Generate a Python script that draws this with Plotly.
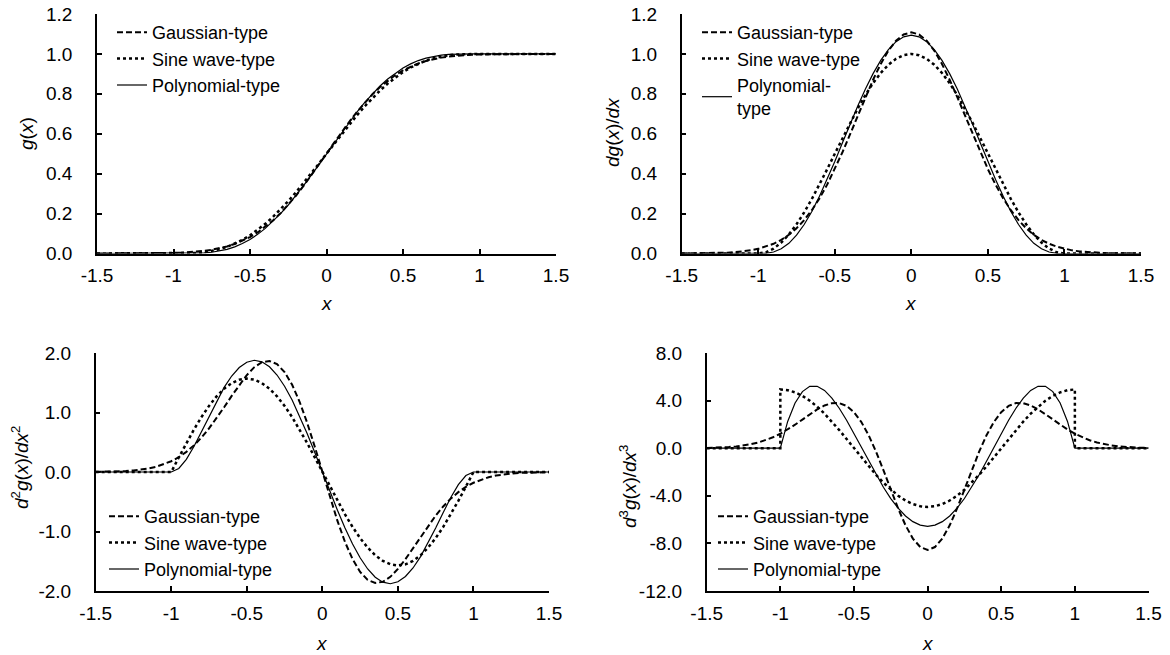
import plotly.graph_objects as go

# ---------------- data ----------------
X = [-1.5, -1.45, -1.4, -1.35, -1.3, -1.25, -1.2, -1.15, -1.1, -1.05,
     -1.0, -0.95, -0.9, -0.85, -0.8, -0.75, -0.7, -0.65, -0.6, -0.55,
     -0.5, -0.45, -0.4, -0.35, -0.3, -0.25, -0.2, -0.15, -0.1, -0.05,
     0.0, 0.05, 0.1, 0.15, 0.2, 0.25, 0.3, 0.35, 0.4, 0.45,
     0.5, 0.55, 0.6, 0.65, 0.7, 0.75, 0.8, 0.85, 0.9, 0.95,
     1.0, 1.05, 1.1, 1.15, 1.2, 1.25, 1.3, 1.35, 1.4, 1.45, 1.5]

# x values for the sine-wave third derivative (it jumps at x = -1 and x = 1)
X_SINE_D3 = [-1.5, -1.45, -1.4, -1.35, -1.3, -1.25, -1.2, -1.15, -1.1, -1.05,
             -1.0, -1.0, -0.95, -0.9, -0.85, -0.8, -0.75, -0.7, -0.65, -0.6, -0.55,
             -0.5, -0.45, -0.4, -0.35, -0.3, -0.25, -0.2, -0.15, -0.1, -0.05,
             0.0, 0.05, 0.1, 0.15, 0.2, 0.25, 0.3, 0.35, 0.4, 0.45,
             0.5, 0.55, 0.6, 0.65, 0.7, 0.75, 0.8, 0.85, 0.9, 0.95,
             1.0, 1.0, 1.05, 1.1, 1.15, 1.2, 1.25, 1.3, 1.35, 1.4, 1.45, 1.5]

# g(x)
gauss_g = [0.0000, 0.0000, 0.0000, 0.0001, 0.0002, 0.0003, 0.0004, 0.0007, 0.0011, 0.0018,
           0.0027, 0.0042, 0.0062, 0.0091, 0.0131, 0.0186, 0.0259, 0.0355, 0.0478, 0.0633,
           0.0824, 0.1056, 0.1333, 0.1655, 0.2023, 0.2437, 0.2892, 0.3385, 0.3906, 0.4448,
           0.5000, 0.5552, 0.6094, 0.6615, 0.7108, 0.7563, 0.7977, 0.8345, 0.8667, 0.8944,
           0.9176, 0.9367, 0.9522, 0.9645, 0.9741, 0.9814, 0.9869, 0.9909, 0.9938, 0.9958,
           0.9973, 0.9982, 0.9989, 0.9993, 0.9996, 0.9997, 0.9998, 0.9999, 1.0000, 1.0000, 1.0000]
sine_g = [0.0, 0.0, 0.0, 0.0, 0.0, 0.0, 0.0, 0.0, 0.0, 0.0,
          0.0, 0.0001, 0.0008, 0.0027, 0.0064, 0.0125, 0.0212, 0.0332, 0.0486, 0.0678,
          0.0908, 0.1178, 0.1486, 0.1832, 0.2212, 0.2625, 0.3064, 0.3527, 0.4008, 0.4501,
          0.5000, 0.5499, 0.5992, 0.6473, 0.6936, 0.7375, 0.7788, 0.8168, 0.8514, 0.8822,
          0.9092, 0.9322, 0.9514, 0.9668, 0.9788, 0.9875, 0.9936, 0.9973, 0.9992, 0.9999,
          1.0, 1.0, 1.0, 1.0, 1.0, 1.0, 1.0, 1.0, 1.0, 1.0, 1.0]
poly_g = [0.0, 0.0, 0.0, 0.0, 0.0, 0.0, 0.0, 0.0, 0.0, 0.0,
          0.0, 0.0000, 0.0002, 0.0009, 0.0027, 0.0062, 0.0121, 0.0209, 0.0333, 0.0498,
          0.0706, 0.0959, 0.1260, 0.1607, 0.1998, 0.2430, 0.2898, 0.3396, 0.3917, 0.4454,
          0.5000, 0.5546, 0.6083, 0.6604, 0.7102, 0.7570, 0.8002, 0.8393, 0.8740, 0.9041,
          0.9294, 0.9502, 0.9667, 0.9791, 0.9879, 0.9938, 0.9973, 0.9991, 0.9998, 1.0000,
          1.0, 1.0, 1.0, 1.0, 1.0, 1.0, 1.0, 1.0, 1.0, 1.0, 1.0]

# dg(x)/dx
gauss_d1 = [0.0002, 0.0003, 0.0006, 0.0010, 0.0016, 0.0027, 0.0043, 0.0067, 0.0104, 0.0158,
            0.0234, 0.0341, 0.0487, 0.0682, 0.0938, 0.1265, 0.1673, 0.2171, 0.2763, 0.3450,
            0.4224, 0.5074, 0.5978, 0.6908, 0.7831, 0.8708, 0.9497, 1.0161, 1.0663, 1.0976,
            1.1082, 1.0976, 1.0663, 1.0161, 0.9497, 0.8708, 0.7831, 0.6908, 0.5978, 0.5074,
            0.4224, 0.3450, 0.2763, 0.2171, 0.1673, 0.1265, 0.0938, 0.0682, 0.0487, 0.0341,
            0.0234, 0.0158, 0.0104, 0.0067, 0.0043, 0.0027, 0.0016, 0.0010, 0.0006, 0.0003, 0.0002]
sine_d1 = [0.0, 0.0, 0.0, 0.0, 0.0, 0.0, 0.0, 0.0, 0.0, 0.0,
           0.0, 0.0062, 0.0245, 0.0545, 0.0955, 0.1464, 0.2061, 0.2730, 0.3455, 0.4218,
           0.5000, 0.5782, 0.6545, 0.7270, 0.7939, 0.8536, 0.9045, 0.9455, 0.9755, 0.9938,
           1.0000, 0.9938, 0.9755, 0.9455, 0.9045, 0.8536, 0.7939, 0.7270, 0.6545, 0.5782,
           0.5000, 0.4218, 0.3455, 0.2730, 0.2061, 0.1464, 0.0955, 0.0545, 0.0245, 0.0062,
           0.0, 0.0, 0.0, 0.0, 0.0, 0.0, 0.0, 0.0, 0.0, 0.0, 0.0]
poly_d1 = [0.0, 0.0, 0.0, 0.0, 0.0, 0.0, 0.0, 0.0, 0.0, 0.0,
           0.0, 0.0010, 0.0075, 0.0234, 0.0510, 0.0916, 0.1451, 0.2107, 0.2867, 0.3712,
           0.4614, 0.5548, 0.6483, 0.7390, 0.8242, 0.9012, 0.9677, 1.0216, 1.0613, 1.0856,
           1.0938, 1.0856, 1.0613, 1.0216, 0.9677, 0.9012, 0.8242, 0.7390, 0.6483, 0.5548,
           0.4614, 0.3712, 0.2867, 0.2107, 0.1451, 0.0916, 0.0510, 0.0234, 0.0075, 0.0010,
           0.0, 0.0, 0.0, 0.0, 0.0, 0.0, 0.0, 0.0, 0.0, 0.0, 0.0]

# d2g(x)/dx2
gauss_d2 = [0.0023, 0.0034, 0.0065, 0.0104, 0.0160, 0.0260, 0.0398, 0.0595, 0.0883, 0.1280,
            0.1806, 0.2500, 0.3382, 0.4473, 0.5790, 0.7321, 0.9036, 1.0888, 1.2792, 1.4641,
            1.6296, 1.7618, 1.8451, 1.8656, 1.8127, 1.6798, 1.4656, 1.1760, 0.8228, 0.4235,
            0.0, -0.4235, -0.8228, -1.1760, -1.4656, -1.6798, -1.8127, -1.8656, -1.8451, -1.7618,
            -1.6296, -1.4641, -1.2792, -1.0888, -0.9036, -0.7321, -0.5790, -0.4473, -0.3382, -0.2500,
            -0.1806, -0.1280, -0.0883, -0.0595, -0.0398, -0.0260, -0.0160, -0.0104, -0.0065, -0.0034, -0.0023]
sine_d2 = [0.0, 0.0, 0.0, 0.0, 0.0, 0.0, 0.0, 0.0, 0.0, 0.0,
           0.0, 0.2457, 0.4854, 0.7131, 0.9233, 1.1107, 1.2708, 1.3996, 1.4939, 1.5515,
           1.5708, 1.5515, 1.4939, 1.3996, 1.2708, 1.1107, 0.9233, 0.7131, 0.4854, 0.2457,
           0.0, -0.2457, -0.4854, -0.7131, -0.9233, -1.1107, -1.2708, -1.3996, -1.4939, -1.5515,
           -1.5708, -1.5515, -1.4939, -1.3996, -1.2708, -1.1107, -0.9233, -0.7131, -0.4854, -0.2457,
           0.0, 0.0, 0.0, 0.0, 0.0, 0.0, 0.0, 0.0, 0.0, 0.0, 0.0]
poly_d2 = [0.0, 0.0, 0.0, 0.0, 0.0, 0.0, 0.0, 0.0, 0.0, 0.0,
           0.0, 0.0593, 0.2132, 0.4296, 0.6804, 0.9421, 1.1948, 1.4226, 1.6128, 1.7560,
           1.8457, 1.8782, 1.8522, 1.7686, 1.6303, 1.4420, 1.2096, 0.9406, 0.6432, 0.3265,
           0.0, -0.3265, -0.6432, -0.9406, -1.2096, -1.4420, -1.6303, -1.7686, -1.8522, -1.8782,
           -1.8457, -1.7560, -1.6128, -1.4226, -1.1948, -0.9421, -0.6804, -0.4296, -0.2132, -0.0593,
           0.0, 0.0, 0.0, 0.0, 0.0, 0.0, 0.0, 0.0, 0.0, 0.0, 0.0]

# d3g(x)/dx3
gauss_d3 = [0.025, 0.035, 0.065, 0.101, 0.149, 0.230, 0.335, 0.476, 0.669, 0.915,
            1.213, 1.569, 1.973, 2.407, 2.850, 3.260, 3.590, 3.786, 3.790, 3.551,
            3.028, 2.202, 1.082, -0.292, -1.846, -3.479, -5.066, -6.479, -7.593, -8.306,
            -8.551, -8.306, -7.593, -6.479, -5.066, -3.479, -1.846, -0.292, 1.082, 2.202,
            3.028, 3.551, 3.790, 3.786, 3.590, 3.260, 2.850, 2.407, 1.973, 1.569,
            1.213, 0.915, 0.669, 0.476, 0.335, 0.230, 0.149, 0.101, 0.065, 0.035, 0.025]
sine_d3 = [0.0, 0.0, 0.0, 0.0, 0.0, 0.0, 0.0, 0.0, 0.0, 0.0,
           0.0, 4.935, 4.874, 4.693, 4.397, 3.992, 3.489, 2.901, 2.240, 1.525, 0.772,
           0.0, -0.772, -1.525, -2.240, -2.901, -3.489, -3.992, -4.397, -4.693, -4.874,
           -4.935, -4.874, -4.693, -4.397, -3.992, -3.489, -2.901, -2.240, -1.525, -0.772,
           0.0, 0.772, 1.525, 2.240, 2.901, 3.489, 3.992, 4.397, 4.693, 4.874,
           4.935, 0.0, 0.0, 0.0, 0.0, 0.0, 0.0, 0.0, 0.0, 0.0, 0.0, 0.0]
poly_d3 = [0.0, 0.0, 0.0, 0.0, 0.0, 0.0, 0.0, 0.0, 0.0, 0.0,
           0.0, 2.2475, 3.8030, 4.7576, 5.1975, 5.2039, 4.8530, 4.2162, 3.3600, 2.3459,
           1.2305, 0.0654, -1.1025, -2.2315, -3.2845, -4.2297, -5.0400, -5.6932, -6.1720, -6.4643,
           -6.5625, -6.4643, -6.1720, -5.6932, -5.0400, -4.2297, -3.2845, -2.2315, -1.1025, 0.0654,
           1.2305, 2.3459, 3.3600, 4.2162, 4.8530, 5.2039, 5.1975, 4.7576, 3.8030, 2.2475,
           0.0, 0.0, 0.0, 0.0, 0.0, 0.0, 0.0, 0.0, 0.0, 0.0, 0.0]

series_names = ["Gaussian-type", "Sine wave-type", "Polynomial-type"]
series_names_p2 = ["Gaussian-type", "Sine wave-type", "Polynomial-<br>type"]

x_tickvals = [-1.5, -1, -0.5, 0, 0.5, 1, 1.5]
x_ticktext = ["-1.5", "-1", "-0.5", "0", "0.5", "1", "1.5"]
y1_tickvals = [0.0, 0.2, 0.4, 0.6, 0.8, 1.0, 1.2]
y1_ticktext = ["0.0", "0.2", "0.4", "0.6", "0.8", "1.0", "1.2"]
y3_tickvals = [-2, -1, 0, 1, 2]
y3_ticktext = ["-2.0", "-1.0", "0.0", "1.0", "2.0"]
y4_tickvals = [-12, -8, -4, 0, 4, 8]
y4_ticktext = ["-12.0", "-8.0", "-4.0", "0.0", "4.0", "8.0"]

y_titles = ["<i>g</i>(<i>x</i>)",
            "<i>dg</i>(<i>x</i>)/<i>dx</i>",
            "<i>d</i><sup>2</sup><i>g</i>(<i>x</i>)/<i>dx</i><sup>2</sup>",
            "<i>d</i><sup>3</sup><i>g</i>(<i>x</i>)/<i>dx</i><sup>3</sup>"]

# ---------------- figure ----------------
W, H = 1170, 655
FONT = "Liberation Sans, Arial, sans-serif"
FS = 19

styles = [dict(color="black", width=2, dash="6px,3px"),
          dict(color="black", width=2.5, dash="dot"),
          dict(color="black", width=1.2)]

panels = [
    (("x", "y"), "legend", [X, X, X], [gauss_g, sine_g, poly_g], series_names),
    (("x2", "y2"), "legend2", [X, X, X], [gauss_d1, sine_d1, poly_d1], series_names_p2),
    (("x3", "y3"), "legend3", [X, X, X], [gauss_d2, sine_d2, poly_d2], series_names),
    (("x4", "y4"), "legend4", [X, X_SINE_D3, X], [gauss_d3, sine_d3, poly_d3], series_names),
]

fig = go.Figure()
for (xa, ya), lg, xs, ys, names in panels:
    for xv, yv, nm, st in zip(xs, ys, names, styles):
        fig.add_trace(go.Scatter(x=xv, y=yv, mode="lines", name=nm, line=st,
                                 xaxis=xa, yaxis=ya, legend=lg))

def px_x(p):
    return p / W

def px_y(p):
    return 1 - p / H

# axis domains in pixels: (left, right, top, bottom)
dom = [(97, 556, 14, 253.5), (681.7, 1141, 14, 253.5),
       (95.7, 549, 353, 591), (706.7, 1148.5, 353, 591)]

axis_common = dict(showline=True, linecolor="black", linewidth=1.5,
                   ticks="inside", ticklen=5, tickwidth=1.5, tickcolor="black",
                   showgrid=False, zeroline=False, automargin=False,
                   tickfont=dict(family=FONT, size=FS, color="black"))

yinfo = [([0, 1.2], y1_tickvals, y1_ticktext),
         ([0, 1.2], y1_tickvals, y1_ticktext),
         ([-2, 2], y3_tickvals, y3_ticktext),
         ([-12, 8], y4_tickvals, y4_ticktext)]

layout = {}
for i, ((l, r, t, b), (yr, yv, yt)) in enumerate(zip(dom, yinfo)):
    sx = "" if i == 0 else str(i + 1)
    layout["xaxis" + sx] = dict(domain=[px_x(l), px_x(r)], range=[-1.5, 1.5],
                                anchor="y" + sx, tickvals=x_tickvals, ticktext=x_ticktext,
                                ticklabelstandoff=4, **axis_common)
    layout["yaxis" + sx] = dict(domain=[px_y(b), px_y(t)], range=yr,
                                anchor="x" + sx, tickvals=yv, ticktext=yt,
                                ticklabelstandoff=19, **axis_common)

fig.update_layout(**layout)

# axis titles
ann = []
xt_pos = [((97 + 556) / 2, 304), ((681.7 + 1141) / 2, 304),
          ((95.7 + 549) / 2, 643), ((706.7 + 1148.5) / 2, 643)]
for (cx, cy) in xt_pos:
    ann.append(dict(x=px_x(cx), y=px_y(cy), xref="paper", yref="paper",
                    text="<i>x</i>", showarrow=False, xanchor="center", yanchor="middle",
                    font=dict(family=FONT, size=FS, color="black")))
yt_pos = [(27, 134), (612, 132), (20, 468), (628, 487)]
for (cx, cy), txt in zip(yt_pos, y_titles):
    ann.append(dict(x=px_x(cx), y=px_y(cy), xref="paper", yref="paper",
                    text=txt, showarrow=False, textangle=-90,
                    xanchor="center", yanchor="middle",
                    font=dict(family=FONT, size=FS, color="black")))

leg_common = dict(bgcolor="rgba(0,0,0,0)", borderwidth=0, xanchor="left", yanchor="top",
                  font=dict(family=FONT, size=18, color="black"), itemwidth=30,
                  tracegroupgap=0)
fig.update_layout(
    width=W, height=H,
    margin=dict(l=0, r=0, t=0, b=0, pad=0, autoexpand=False),
    paper_bgcolor="white", plot_bgcolor="white",
    font=dict(family=FONT, size=FS, color="black"),
    annotations=ann,
    showlegend=True,
    hovermode=False,
    legend=dict(x=px_x(112), y=px_y(14), **leg_common),
    legend2=dict(x=px_x(697), y=px_y(14), **leg_common),
    legend3=dict(x=px_x(104), y=px_y(498), **leg_common),
    legend4=dict(x=px_x(713), y=px_y(498), **leg_common),
)

fig.write_html("out.html",
               config={"displayModeBar": False},
               post_script="document.body.style.margin='0';document.body.style.padding='0';")
